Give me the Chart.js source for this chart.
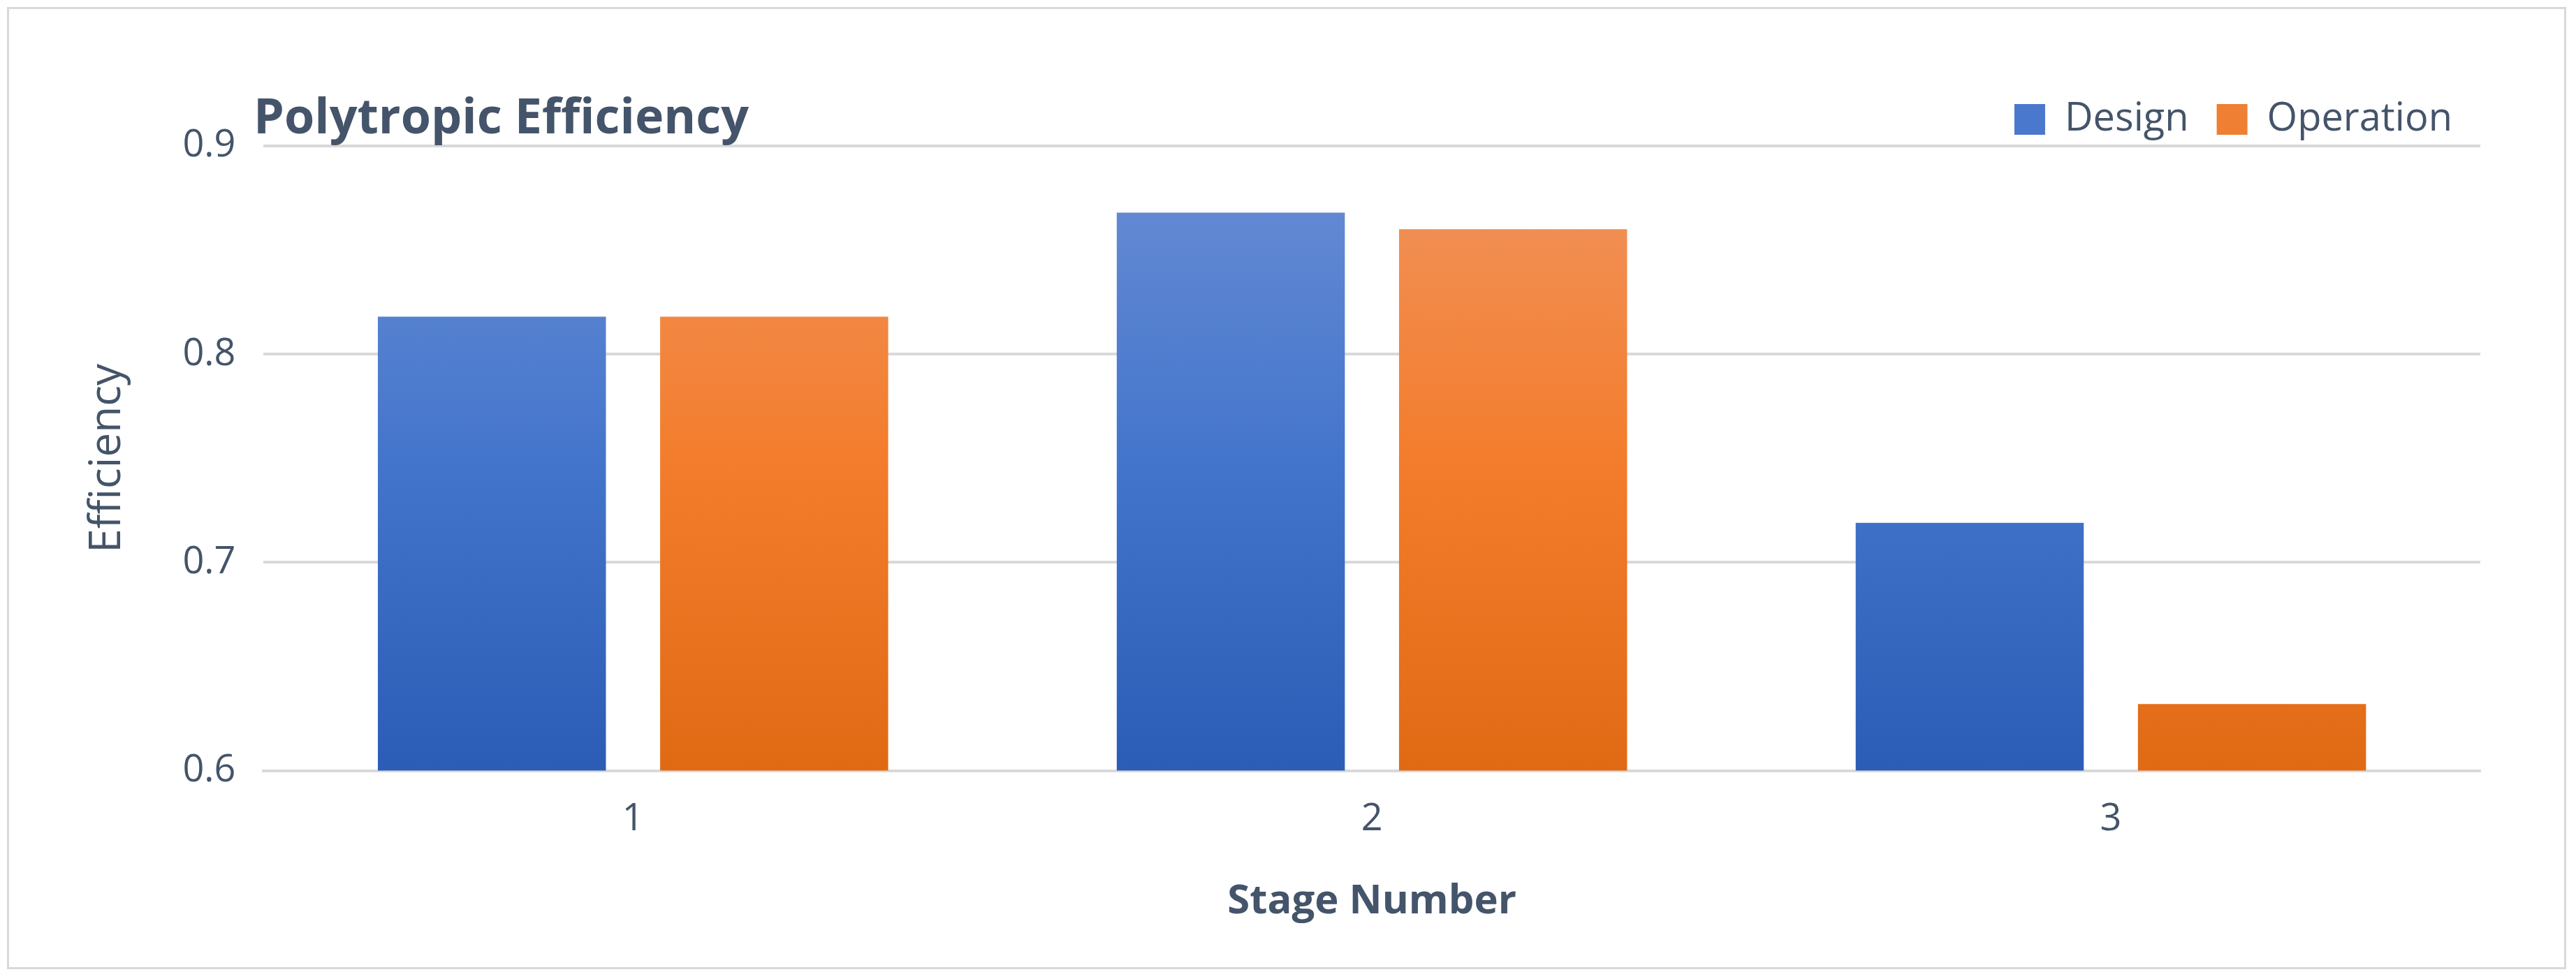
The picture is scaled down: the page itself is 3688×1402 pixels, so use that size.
<!DOCTYPE html>
<html><head><meta charset="utf-8">
<script src="https://cdn.jsdelivr.net/npm/chart.js@4"></script>
<style>
html,body{margin:0;padding:0;background:#fff;}
#wrap{position:absolute;left:10px;top:10px;width:3664px;height:1378px;border:3px solid #d9d9d9;box-sizing:border-box;}
canvas{display:block;}
</style></head><body>
<div id="wrap"><canvas id="c"></canvas></div>
<script>
const categories = ['1','2','3'];
const designValues = [0.818, 0.868, 0.719];
const operationValues = [0.818, 0.860, 0.632];
const yTicks = [0.6, 0.7, 0.8, 0.9];
const titleText = 'Polytropic Efficiency';
const txt = '#44546a';
const FONT = '"Open Sans", sans-serif';

function grad(ctx, top, bottom){
  const c = ctx.chart; const a = c.chartArea;
  if(!a) return bottom;
  const g = c.ctx.createLinearGradient(0, a.top, 0, a.bottom);
  g.addColorStop(0, top); g.addColorStop(0.5, bottom[0]); g.addColorStop(1, bottom[1]);
  return g;
}
const titlePlugin = {
  id:'tp',
  afterDraw(chart){
    const ctx = chart.ctx; ctx.save();
    ctx.font = 'bold 70px ' + FONT; ctx.fillStyle = txt;
    ctx.textBaseline = 'middle'; ctx.textAlign = 'left';
    ctx.fillText(titleText, 350, 158);
    ctx.restore();
  }
};
new Chart(document.getElementById('c'), {
  type:'bar',
  data:{labels:categories, datasets:[
    {label:'Design', data:designValues,
     backgroundColor:c=>grad(c,'#6a8ed4',['#4475cc','#2c5db6'])},
    {label:'Operation', data:operationValues,
     backgroundColor:c=>grad(c,'#f19460',['#f37d2c','#e06a14'])}
  ]},
  options:{
    responsive:true, maintainAspectRatio:false, animation:false,
    devicePixelRatio:1,
    layout:{padding:{left:100,right:120,top:90,bottom:55}},
    datasets:{bar:{categoryPercentage:0.764, barPercentage:0.808}},
    plugins:{
      legend:{position:'top', align:'end',
        labels:{font:{size:56,family:FONT}, color:txt, boxWidth:44, boxHeight:44, padding:40,
          generateLabels:ch=>ch.data.datasets.map((d,i)=>({text:d.label, fillStyle:i?'#ef7f32':'#4a78cc', strokeStyle:'transparent', lineWidth:0, datasetIndex:i, fontColor:txt}))}},
      tooltip:{enabled:false}
    },
    scales:{
      y:{min:0.6, max:0.9, border:{display:false},
        afterBuildTicks:ax=>{ax.ticks = yTicks.map(v=>({value:v}));},
        ticks:{font:{size:54,family:FONT}, color:txt, padding:40, callback:v=>v.toFixed(1)},
        grid:{color:'#d9d9d9', lineWidth:4, drawTicks:false},
        title:{display:true, text:'Efficiency', font:{size:62,family:FONT}, color:txt, padding:{bottom:30}}
      },
      x:{grid:{display:false}, border:{color:'#d9d9d9', width:4},
        ticks:{font:{size:54,family:FONT}, color:txt, padding:30},
        title:{display:true, text:'Stage Number', font:{size:58,weight:'bold',family:FONT}, color:txt, padding:{top:20}}
      }
    }
  },
  plugins:[titlePlugin]
});
</script></body></html>
